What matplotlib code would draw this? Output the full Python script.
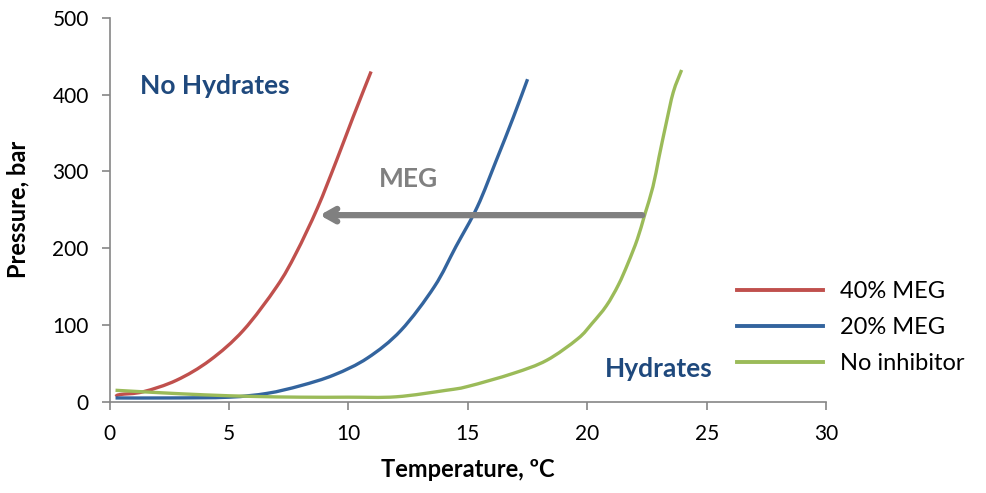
import matplotlib.pyplot as plt
import numpy as np
from matplotlib.path import Path
from matplotlib.patches import PathPatch
from matplotlib.lines import Line2D

plt.rcParams['font.family'] = ['Lato', 'DejaVu Sans']

# Hydrate equilibrium curves (temperature in C, pressure in bar)
t_40 = [0.25, 0.45, 1.4, 2.8, 4.2, 5.6, 7.0, 7.8, 8.7, 9.5, 10.2, 10.95]
p_40 = [7, 9.5, 13, 28, 54, 93, 150, 193, 252, 314, 371, 430]

t_20 = [0.25, 2.5, 5.0, 6.6, 8.0, 9.4, 10.8, 12.2, 13.6, 14.5, 15.4, 16.2, 16.9, 17.5]
p_20 = [5, 5, 6, 11, 21, 35, 57, 93, 150, 202, 254, 315, 370, 420]

t_none = [0.25, 2.0, 4.0, 6.0, 8.0, 10.0, 12.0, 14.1, 15.0, 16.9, 18.3, 19.6,
          20.2, 20.8, 21.3, 21.7, 22.1, 22.4, 22.75, 23.0, 23.3, 23.6, 23.95]
p_none = [15, 12, 9, 7, 6, 6, 6.5, 15, 20, 37, 54, 82,
          102, 125, 152, 180, 212, 243, 280, 318, 362, 403, 432]

series = [
    ("40% MEG", t_40, p_40, "#C0504D"),
    ("20% MEG", t_20, p_20, "#33649E"),
    ("No inhibitor", t_none, p_none, "#9BBB59"),
]


def smooth_path(x, y):
    # Catmull-Rom style cubic segments through the points (like a spreadsheet "smoothed line")
    pts = np.column_stack([x, y]).astype(float)
    ext = np.vstack([pts[0], pts, pts[-1]])
    verts = [pts[0]]
    codes = [Path.MOVETO]
    for i in range(1, len(ext) - 2):
        p0, p1, p2, p3 = ext[i - 1], ext[i], ext[i + 1], ext[i + 2]
        verts += [p1 + (p2 - p0) / 6, p2 - (p3 - p1) / 6, p2]
        codes += [Path.CURVE4] * 3
    return Path(verts, codes)


fig = plt.figure(figsize=(9.87, 4.93), dpi=100)
ax = fig.add_axes([0.111, 0.185, 0.726, 0.779])

handles = []
for label, t, p, color in series:
    ax.add_patch(PathPatch(smooth_path(t, p), fill=False, edgecolor=color,
                           lw=2.4, capstyle='butt'))
    handles.append(Line2D([], [], color=color, lw=2.8, label=label))

ax.set_xlim(0, 30)
ax.set_ylim(0, 500)
ax.set_xticks(range(0, 31, 5))
ax.set_yticks(range(0, 501, 100))

for side in ('top', 'right'):
    ax.spines[side].set_visible(False)
for side in ('left', 'bottom'):
    ax.spines[side].set_color('#868686')
    ax.spines[side].set_linewidth(1.2)
ax.tick_params(direction='out', length=6, width=1.2, color='#868686',
               labelsize=15, labelcolor='black')
ax.tick_params(axis='x', pad=10)
ax.tick_params(axis='y', pad=9)

ax.set_xlabel("Temperature, ºC", fontsize=17, fontweight='bold')
ax.set_ylabel("Pressure, bar", fontsize=17, fontweight='bold')
ax.xaxis.set_label_coords(0.5, -0.147)
ax.yaxis.set_label_coords(-0.112, 0.5)

# MEG shifts the curve to lower temperature
ax.annotate("", xy=(8.8, 243), xytext=(22.3, 243),
            arrowprops=dict(arrowstyle="->, head_length=0.8, head_width=0.45",
                            color='#808080', lw=4.5, shrinkA=0, shrinkB=0))
ax.text(12.5, 290, "MEG", fontsize=19, fontweight='bold', color='#808080',
        ha='center', va='center')

ax.text(1.28, 411, "No Hydrates", fontsize=19, fontweight='bold', color='#1F497D',
        ha='left', va='center')
ax.text(23.0, 43, "Hydrates", fontsize=19, fontweight='bold', color='#1F497D',
        ha='center', va='center')

ax.legend(handles=handles, loc='upper left', bbox_to_anchor=(0.737, 0.449),
          bbox_transform=fig.transFigure, frameon=False, fontsize=17,
          handlelength=3.65, handletextpad=0.72, labelspacing=0.63, borderaxespad=0)

fig.savefig("out.png", dpi=100)
